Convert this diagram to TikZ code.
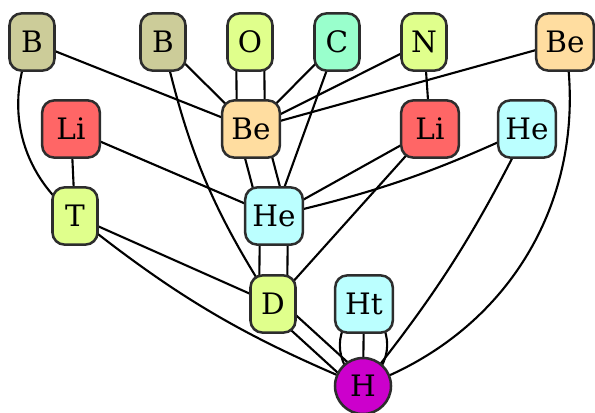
\documentclass[tikz,border=0pt]{standalone}
\usepackage{fontspec}
\setmainfont{DejaVu Serif}
\usetikzlibrary{backgrounds}

\definecolor{boroncol}{RGB}{204,204,153}
\definecolor{limecol}{RGB}{224,255,140}
\definecolor{mintcol}{RGB}{153,255,204}
\definecolor{peachcol}{RGB}{255,221,160}
\definecolor{lithiumcol}{RGB}{255,102,102}
\definecolor{heliumcol}{RGB}{187,255,255}
\definecolor{hydrogencol}{RGB}{204,0,204}
\definecolor{rimcol}{RGB}{45,45,45}

\begin{document}
\begin{tikzpicture} [scale = 1,
  box/.style = {draw = rimcol, line width = 1.8pt, rounded corners = 0.3cm,
    minimum width = 1.125cm, minimum height = 1.43cm, inner sep = 0pt,
    font = \fontsize{21}{25}\selectfont},
  wide/.style = {minimum width = 1.44cm},
  ball/.style = {circle, draw = rimcol, line width = 1.8pt, minimum size = 1.4cm,
    inner sep = 0pt, font = \fontsize{21}{25}\selectfont},
  edge/.style = {line width = 1.5pt}]
\useasboundingbox (0.0, 0.0) rectangle (14.875, 10.3);
\node[box, fill = boroncol] (B1) at (0.8, 9.25) {B};
\node[box, fill = boroncol] (B2) at (4.075, 9.25) {B};
\node[box, fill = limecol] (O) at (6.25, 9.25) {O};
\node[box, fill = mintcol] (C) at (8.425, 9.25) {C};
\node[box, fill = limecol] (N) at (10.6, 9.25) {N};
\node[box, wide, fill = peachcol] (Be2) at (14.125, 9.25) {Be};
\node[box, wide, fill = lithiumcol] (Li1) at (1.775, 7.075) {Li};
\node[box, wide, fill = peachcol] (Be1) at (6.275, 7.075) {Be};
\node[box, wide, fill = lithiumcol] (Li2) at (10.75, 7.075) {Li};
\node[box, wide, fill = heliumcol] (He2) at (13.175, 7.075) {He};
\node[box, fill = limecol] (T) at (1.875, 4.9) {T};
\node[box, wide, fill = heliumcol] (He1) at (6.85, 4.9) {He};
\node[box, fill = limecol] (D) at (6.825, 2.7) {D};
\node[box, wide, fill = heliumcol] (Ht) at (9.1, 2.7) {Ht};
\node[ball, fill = hydrogencol] (H) at (9.075, 0.65) {H};
\begin{scope}[on background layer]
\draw[edge] (B1.center) -- (Be1.center);
\draw[edge] (B2.center) -- (Be1.center);
\draw[edge] (C.center) -- (Be1.center);
\draw[edge] (C.center) -- (He1.center);
\draw[edge] (N.center) -- (Be1.center);
\draw[edge] (N.center) -- (Li2.center);
\draw[edge] (Be2.center) -- (Be1.center);
\draw[edge] (Li1.center) -- (T.center);
\draw[edge] (Li1.center) -- (He1.center);
\draw[edge] (Li2.center) -- (He1.center);
\draw[edge] (Li2.center) -- (D.center);
\draw[edge] (T.center) -- (D.center);
\draw[edge] (Ht.center) -- (H.center);
\draw[edge] ([xshift = -0.35cm]O.center) -- ([xshift = -0.35cm]Be1.center);
\draw[edge] ([xshift = 0.35cm]O.center) -- ([xshift = 0.35cm]Be1.center);
\draw[edge] ([shift = {(-0.32, -0.084)}]Be1.center) -- ([shift = {(-0.32, -0.084)}]He1.center);
\draw[edge] ([shift = {(0.32, 0.084)}]Be1.center) -- ([shift = {(0.32, 0.084)}]He1.center);
\draw[edge] ([xshift = -0.35cm]He1.center) -- ([xshift = -0.35cm]D.center);
\draw[edge] ([xshift = 0.35cm]He1.center) -- ([xshift = 0.35cm]D.center);
\draw[edge] ([shift = {(-0.121, -0.133)}]D.center) -- ([shift = {(-0.121, -0.133)}]H.center);
\draw[edge] ([shift = {(0.121, 0.133)}]D.center) -- ([shift = {(0.121, 0.133)}]H.center);
\draw[edge] (B1.center) to[bend right = 38] (T.center);
\draw[edge] (B2.center) to[bend right = 10] (D.center);
\draw[edge] (T.center) to[bend right = 8] (H.center);
\draw[edge] (Be2.center) to[bend left = 40] (H.center);
\draw[edge] (He2.center) to[bend left = 6] (H.center);
\draw[edge] (He2.center) to[bend left = 6] (He1.center);
\draw[edge] (Ht.center) to[bend right = 55, looseness = 1.2] (H.center);
\draw[edge] (Ht.center) to[bend left = 55, looseness = 1.2] (H.center);
\end{scope}
\end{tikzpicture}
\end{document}
